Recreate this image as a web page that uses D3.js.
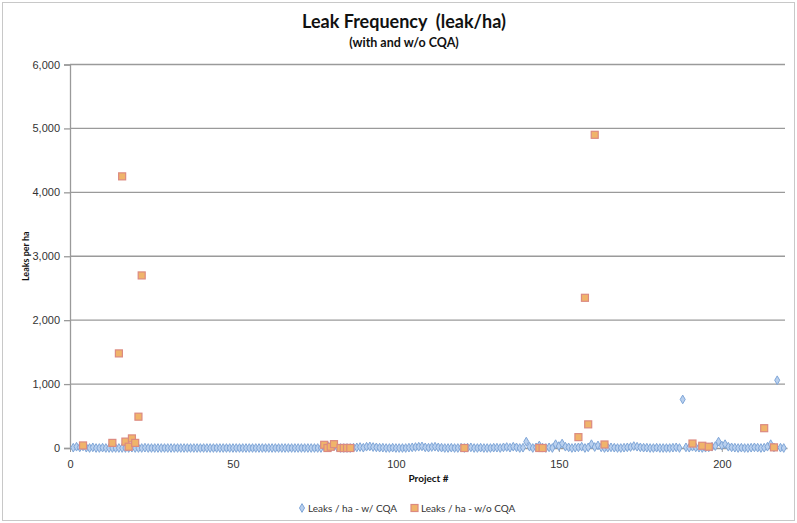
<!DOCTYPE html>
<html>
<head>
<meta charset="utf-8">
<script src="https://cdn.jsdelivr.net/npm/d3@7"></script>
<style>
  body { margin: 0; background: #fff; }
  svg { display: block; font-family: Lato, 'Open Sans', sans-serif; }
</style>
</head>
<body>
<div id="chart"></div>
<script>
// Leaks / ha - w/ CQA, projects 1..219
const withCQA = [
  5, 20, 10, 25, 5, 0, 10, 0, 0, 5,
  0, 0, 0, 0, 0, 0, 0, 0, 5, 0,
  0, 0, 5, 0, 0, 0, 0, 0, 0, 0,
  0, 0, 0, 0, 0, 0, 0, 0, 0, 0,
  0, 0, 0, 0, 0, 0, 0, 0, 0, 0,
  0, 0, 0, 0, 0, 0, 0, 0, 0, 0,
  0, 0, 0, 0, 0, 0, 0, 0, 0, 0,
  0, 0, 0, 0, 0, 0, 0, 20, 40, 10,
  30, 10, 0, 0, 0, 0, 5, 10, 15, 5,
  20, 25, 15, 10, 5, 5, 0, 0, 5, 0,
  0, 0, 0, 5, 10, 15, 20, 25, 10, 5,
  15, 20, 10, 5, 0, 0, 5, 0, 0, 5,
  0, 5, 10, 0, 0, 5, 0, 0, 0, 5,
  5, 0, 10, 15, 5, 20, 10, 0, 5, 100,
  20, 0, 10, 40, 5, 0, 10, 0, 60, 30,
  70, 20, 10, 0, 5, 10, 20, 0, 10, 60,
  15, 40, 10, 0, 5, 10, 5, 0, 0, 5,
  10, 15, 30, 20, 10, 5, 5, 0, 0, 5,
  0, 0, 0, 0, 5, 10, 0, 760, 10, 5,
  20, 10, 5, 0, 5, 10, 20, 30, 100, 40,
  60, 20, 10, 5, 0, 5, 0, 0, 5, 10,
  5, 0, 5, 20, 60, 10, 1060, 5, 0
];

// Leaks / ha - w/o CQA (only projects that have a value)
const woProjects = [4, 13, 15, 16, 17, 18, 19, 20, 21, 22,
  78, 79, 80, 81, 83, 84, 85, 86, 121, 144, 145,
  156, 158, 159, 161, 164, 191, 194, 196, 213, 216];
const woValues = [40, 80, 1480, 4250, 100, 20, 150, 80, 490, 2700,
  50, 0, 20, 60, 0, 0, 0, 0, 0, 0, 0,
  170, 2350, 370, 4900, 55, 70, 35, 20, 310, 10];

const xTicks = [0, 50, 100, 150, 200];
const yTicks = [0, 1000, 2000, 3000, 4000, 5000, 6000];

const width = 797, height = 523;
const margin = { top: 64.5, right: 10, bottom: 75, left: 70 };

const svg = d3.select('#chart')
  .append('svg')
  .attr('width', width)
  .attr('height', height);

// outer chart border
svg.append('rect')
  .attr('x', 2.5).attr('y', 2.5)
  .attr('width', width - 5).attr('height', height - 5)
  .attr('fill', '#fff')
  .attr('stroke', '#c8c8c8');

const xScale = d3.scaleLinear()
  .domain([0, 220])
  .range([margin.left, width - margin.right]);

const yScale = d3.scaleLinear()
  .domain([0, 6000])
  .range([height - margin.bottom, margin.top]);

// gridlines
svg.append('g')
  .selectAll('line')
  .data(yTicks.slice(1))
  .join('line')
  .attr('x1', xScale(0))
  .attr('x2', xScale(220) - 2)
  .attr('y1', d => yScale(d))
  .attr('y2', d => yScale(d))
  .attr('stroke', '#9a9a9a')
  .attr('stroke-width', 1.3);

// y axis
const yAxis = svg.append('g')
  .attr('transform', `translate(${xScale(0)},0)`)
  .call(d3.axisLeft(yScale).tickValues(yTicks).tickSize(6).tickPadding(4).tickFormat(d3.format(',')));
yAxis.select('.domain').attr('stroke', '#9a9a9a').attr('stroke-width', 1.3);
yAxis.selectAll('.tick line').attr('stroke', '#9a9a9a').attr('stroke-width', 1.3);
yAxis.selectAll('text').attr('font-size', '11px').attr('fill', '#333');

// x axis
const xAxis = svg.append('g')
  .attr('transform', `translate(0,${yScale(0)})`)
  .call(d3.axisBottom(xScale).tickValues(xTicks).tickSize(4).tickPadding(8).tickSizeOuter(0));
xAxis.select('.domain').attr('stroke', '#9a9a9a').attr('stroke-width', 1.3);
xAxis.selectAll('.tick line').attr('stroke', '#9a9a9a');
xAxis.selectAll('text').attr('font-size', '11px').attr('fill', '#333');

// w/ CQA diamonds
const diamond = d3.symbol().type(d3.symbolDiamond).size(22);
svg.append('g')
  .selectAll('path')
  .data(withCQA)
  .join('path')
  .attr('d', diamond)
  .attr('transform', (d, i) => `translate(${xScale(i + 1)},${yScale(d)})`)
  .attr('fill', '#b9d0ee')
  .attr('stroke', '#7fa6d8')
  .attr('stroke-width', 1);

// w/o CQA squares
svg.append('g')
  .selectAll('rect')
  .data(woProjects)
  .join('rect')
  .attr('x', d => xScale(d) - 3.5)
  .attr('y', (d, i) => yScale(woValues[i]) - 3.5)
  .attr('width', 7)
  .attr('height', 7)
  .attr('fill', '#f0b46a')
  .attr('stroke', '#dc8a80')
  .attr('stroke-width', 1.2);

// titles
svg.append('text')
  .attr('x', 404).attr('y', 28)
  .attr('text-anchor', 'middle')
  .attr('font-size', '18px')
  .attr('font-weight', 'bold')
  .attr('fill', '#111')
  .attr('xml:space', 'preserve')
  .text('Leak Frequency  (leak/ha)');

svg.append('text')
  .attr('x', 404).attr('y', 47)
  .attr('text-anchor', 'middle')
  .attr('font-size', '12.5px')
  .attr('font-weight', 'bold')
  .attr('fill', '#111')
  .text('(with and w/o CQA)');

svg.append('text')
  .attr('transform', `translate(29,${(yScale(0) + yScale(6000)) / 2}) rotate(-90)`)
  .attr('text-anchor', 'middle')
  .attr('font-size', '9px')
  .attr('font-weight', 'bold')
  .attr('fill', '#111')
  .text('Leaks per ha');

svg.append('text')
  .attr('x', (xScale(0) + xScale(220)) / 2).attr('y', 482)
  .attr('text-anchor', 'middle')
  .attr('font-size', '10px')
  .attr('font-weight', 'bold')
  .attr('fill', '#111')
  .text('Project #');

// legend
const legend = svg.append('g').attr('transform', 'translate(0,508)');
legend.append('path')
  .attr('d', diamond)
  .attr('transform', 'translate(302,0)')
  .attr('fill', '#b9d0ee')
  .attr('stroke', '#7fa6d8');
legend.append('text')
  .attr('x', 308).attr('y', 4)
  .attr('font-size', '10px')
  .attr('fill', '#333')
  .text('Leaks / ha - w/ CQA');
legend.append('rect')
  .attr('x', 411).attr('y', -3.5)
  .attr('width', 7).attr('height', 7)
  .attr('fill', '#f0b46a')
  .attr('stroke', '#dc8a80')
  .attr('stroke-width', 1.2);
legend.append('text')
  .attr('x', 421).attr('y', 4)
  .attr('font-size', '10px')
  .attr('fill', '#333')
  .text('Leaks / ha - w/o CQA');
</script>
</body>
</html>
